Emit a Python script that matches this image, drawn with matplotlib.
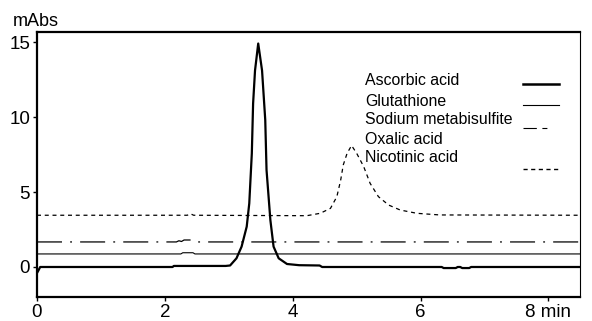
import matplotlib.pyplot as plt
from matplotlib.lines import Line2D

plt.rcParams["font.family"] = ["Liberation Sans", "DejaVu Sans"]

# values (time in min, absorbance in mAbs)
asc_t = [0.0, 0.02, 0.05, 0.1, 2.12, 2.14, 2.95, 3.02, 3.12, 3.2, 3.28, 3.32,
         3.36, 3.38, 3.41, 3.46, 3.52, 3.57, 3.59, 3.65, 3.7, 3.78, 3.91,
         4.1, 4.42, 4.46, 6.33, 6.36, 6.55, 6.58, 6.62, 6.65, 6.76, 6.79, 8.5]
asc_y = [-0.4, -0.25, 0.0, 0.0, 0.0, 0.07, 0.07, 0.1, 0.58, 1.36, 2.69, 4.24,
         7.58, 10.9, 13.1, 14.9, 13.1, 9.8, 6.47, 3.13, 1.36, 0.58, 0.2,
         0.12, 0.1, 0.0, 0.0, -0.07, -0.07, 0.0, 0.0, -0.07, -0.07, 0.0, 0.0]

glu_t = [0.0, 2.25, 2.28, 2.44, 2.47, 8.5]
glu_y = [0.87, 0.87, 0.95, 0.95, 0.87, 0.87]

sod_t = [0.0, 2.18, 2.22, 2.26, 2.3, 2.45, 2.5, 8.5]
sod_y = [1.67, 1.67, 1.75, 1.7, 1.8, 1.8, 1.67, 1.67]

nic_t = [0.0, 2.35, 2.4, 2.45, 4.22, 4.43, 4.59, 4.69, 4.75, 4.79, 4.85, 4.92,
         5.0, 5.11, 5.21, 5.34, 5.5, 5.68, 5.94, 6.3, 8.5]
nic_y = [3.45, 3.45, 3.55, 3.45, 3.42, 3.58, 3.91, 4.69, 5.8, 6.8, 7.58, 8.1,
         7.58, 6.69, 5.58, 4.69, 4.13, 3.8, 3.58, 3.47, 3.45]

labels = ["Ascorbic acid", "Glutathione", "Sodium metabisulfite",
          "Oxalic acid", "Nicotinic acid"]
xticks = [0, 2, 4, 6, 8]
xticklabels = ["0", "2", "4", "6", "8 min"]
yticks = [0, 5, 10, 15]

fig = plt.figure(figsize=(5.92, 3.21), dpi=100)
ax = fig.add_axes([0.0625, 0.0748, 0.918, 0.827])

ax.plot(asc_t, asc_y, color="black", lw=1.6)
ax.plot(glu_t, glu_y, color="black", lw=0.8)
ax.plot(sod_t, sod_y, color="black", lw=0.9, dashes=[20, 6.5, 1.5, 6.5])
ax.plot(nic_t, nic_y, color="black", lw=0.9, dashes=[3.2, 3.0])

ax.set_xlim(0, 8.5)
ax.set_ylim(-2.0, 15.7)
ax.set_xticks(xticks)
ax.set_xticklabels(xticklabels)
ax.set_yticks(yticks)
ax.tick_params(direction="out", length=3, width=1, labelsize=13.5, pad=2)

for s in ["left", "bottom", "top"]:
    ax.spines[s].set_linewidth(1.6)
ax.spines["right"].set_linewidth(0.8)

fig.text(13 / 592, 1 - 26 / 321, "mAbs", fontsize=13, va="baseline")

# legend: labels left aligned, line samples right aligned
text_y = [0.817, 0.738, 0.667, 0.595, 0.524]
for lab, yy in zip(labels, text_y):
    ax.text(0.604, yy, lab, transform=ax.transAxes, fontsize=11.4, va="center")

samples = [
    (0.802, dict(lw=1.8)),
    (0.723, dict(lw=0.8)),
    (0.637, dict(lw=0.8, dashes=[12, 5, 4.5, 100])),
    (0.482, dict(lw=1.0, dashes=[3, 2.5])),
]
for yy, kw in samples:
    ax.add_line(Line2D([0.894, 0.960], [yy, yy], transform=ax.transAxes,
                       color="black", **kw))

fig.savefig("out.png", dpi=100)
